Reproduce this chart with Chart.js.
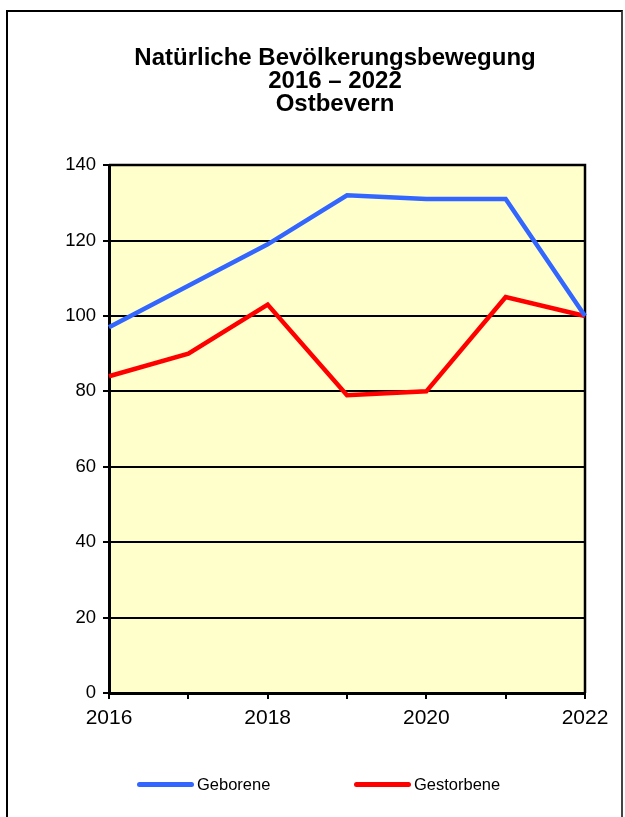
<!DOCTYPE html>
<html>
<head>
<meta charset="utf-8">
<script src="https://cdn.jsdelivr.net/npm/chart.js@4"></script>
<style>
  html, body { margin: 0; padding: 0; background: #ffffff; overflow: hidden; }
  #frame { position: absolute; left: 6px; top: 10px; width: 613px; height: 900px;
           border-left: 2px solid #000; border-top: 2px solid #000; border-right: 2px solid #444; }
  #wrap { position: absolute; left: 0; top: 0; width: 625px; height: 817px; }
  .lg-line { position: absolute; height: 5px; border-radius: 3px; }
  .lg-text { position: absolute; font-family: "Liberation Sans", Arial, sans-serif; font-size: 16.5px; color: #000; line-height: 19px; }
</style>
</head>
<body>
<div id="frame"></div>
<div id="wrap"><canvas id="c" width="625" height="817"></canvas></div>
<div id="legend"></div>
<script>
const titleLines = ["Natürliche Bevölkerungsbewegung", "2016 – 2022", "Ostbevern"];
const years = ["2016", "2017", "2018", "2019", "2020", "2021", "2022"];
const geborene = [97, 108, 119, 132, 131, 131, 100];
const gestorbene = [84, 90, 103, 79, 80, 105, 100];
const seriesNames = ["Geborene", "Gestorbene"];
const seriesColors = ["#3366FF", "#FF0000"];
const yTicks = [0, 20, 40, 60, 80, 100, 120, 140];

const plotDeco = {
  id: 'plotDeco',
  beforeDraw(chart) {
    const {ctx, chartArea: a} = chart;
    ctx.save();
    ctx.fillStyle = '#FFFFCC';
    ctx.fillRect(a.left, a.top, a.right - a.left, a.bottom - a.top);
    ctx.restore();
  },
  beforeDatasetsDraw(chart) {
    const {ctx, chartArea: a} = chart;
    ctx.save();
    ctx.strokeStyle = '#000';
    ctx.lineWidth = 2.5;
    ctx.beginPath();
    ctx.moveTo(a.left, a.top);
    ctx.lineTo(a.right, a.top);
    ctx.lineTo(a.right, a.bottom);
    ctx.stroke();
    ctx.restore();
  }
};

const chart = new Chart(document.getElementById('c'), {
  type: 'line',
  data: {
    labels: years,
    datasets: [
      { label: seriesNames[0], data: geborene, borderColor: seriesColors[0], backgroundColor: seriesColors[0],
        borderWidth: 4.5, pointRadius: 0, tension: 0, fill: false, yAxisID: 'y' },
      { label: seriesNames[1], data: gestorbene, borderColor: seriesColors[1], backgroundColor: seriesColors[1],
        borderWidth: 4.5, pointRadius: 0, tension: 0, fill: false, yAxisID: 'y' }
    ]
  },
  options: {
    responsive: false,
    animation: false,
    events: [],
    layout: { padding: { left: 45, right: 0, top: 0, bottom: 84 } },
    plugins: {
      legend: { display: false },
      tooltip: { enabled: false },
      title: {
        display: true,
        text: titleLines,
        color: '#000',
        font: { family: '"Liberation Sans", Arial, sans-serif', size: 24, weight: 'bold', lineHeight: 0.96 },
        padding: { top: 47, bottom: 49 }
      }
    },
    scales: {
      x: {
        type: 'category',
        offset: false,
        grid: { drawOnChartArea: false, drawTicks: true, tickLength: 6, color: '#000', lineWidth: 2 },
        border: { display: true, color: '#000', width: 3 },
        ticks: {
          color: '#000', padding: 7, maxRotation: 0, autoSkip: false,
          font: { family: '"Liberation Sans", Arial, sans-serif', size: 21 },
          callback: function(v, i) { return i % 2 === 0 ? years[i] : ''; }
        },
        afterFit(scale) { scale.height = 40; }
      },
      y: {
        position: 'left',
        min: yTicks[0],
        max: yTicks[yTicks.length - 1],
        grid: { color: '#000', lineWidth: 2, tickLength: 6 },
        border: { display: true, color: '#000', width: 3 },
        ticks: {
          stepSize: 20, color: '#000', padding: 7,
          font: { family: '"Liberation Sans", Arial, sans-serif', size: 18.5 }
        },
        afterFit(scale) { scale.width = 64; }
      },
      yRight: {
        position: 'right',
        min: yTicks[0],
        max: yTicks[yTicks.length - 1],
        grid: { display: false },
        border: { display: false },
        ticks: { display: false },
        afterFit(scale) { scale.width = 40; }
      }
    }
  },
  plugins: [plotDeco]
});

// HTML legend built from the chart's datasets
const legendPos = [{ line: 137, text: 197 }, { line: 354, text: 414 }];
const lg = document.getElementById('legend');
chart.data.datasets.forEach((ds, i) => {
  const ln = document.createElement('div');
  ln.className = 'lg-line';
  ln.style.left = legendPos[i].line + 'px';
  ln.style.width = '57px';
  ln.style.top = '782px';
  ln.style.background = ds.borderColor;
  lg.appendChild(ln);
  const tx = document.createElement('div');
  tx.className = 'lg-text';
  tx.style.left = legendPos[i].text + 'px';
  tx.style.top = '775px';
  tx.textContent = ds.label;
  lg.appendChild(tx);
});
</script>
</body>
</html>
